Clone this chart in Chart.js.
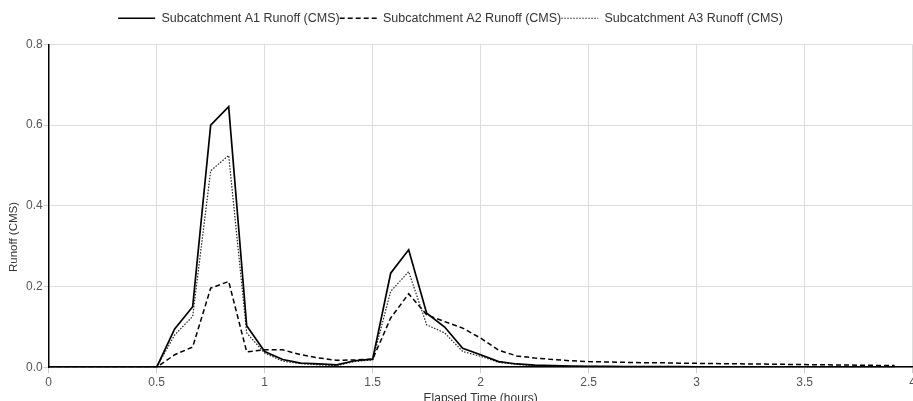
<!DOCTYPE html>
<html>
<head>
<meta charset="utf-8">
<script src="https://cdn.jsdelivr.net/npm/chart.js"></script>
<style>
  html, body { margin: 0; padding: 0; overflow: hidden; background: #fff; }
  #wrap { width: 918px; height: 406px; }
</style>
</head>
<body>
<div id="wrap"><canvas id="myChart"></canvas></div>
<script>
// elapsed time, minutes (5 minute steps)
const minutes = [0, 5, 10, 15, 20, 25, 30, 35, 40, 45, 50, 55,
    60, 65, 70, 75, 80, 85, 90, 95, 100, 105, 110, 115,
    120, 125, 130, 135, 140, 145, 150, 155, 160, 165, 170, 175,
    180, 185, 190, 195, 200, 205, 210, 215, 220, 225, 230, 235]

const runoffA1 = [0, 0, 0, 0, 0, 0, 0, 0.095, 0.15, 0.60, 0.646, 0.103,
    0.039, 0.019, 0.010, 0.008, 0.006, 0.016, 0.020, 0.233, 0.291, 0.134, 0.0995, 0.047,
    0.031, 0.014, 0.008, 0.005, 0.004, 0.003, 0.002, 0.002, 0.0015, 0.0015, 0.0012, 0.0012,
    0.001, 0.001, 0.001, 0.0009, 0.0009, 0.0008, 0.0008, 0.0007, 0.0007, 0.0006, 0.0006, 0.0005]

const runoffA2 = [0, 0, 0, 0, 0, 0, 0, 0.031, 0.05, 0.196, 0.2125, 0.038,
    0.043, 0.043, 0.031, 0.023, 0.017, 0.018, 0.020, 0.122, 0.182, 0.13, 0.113, 0.097,
    0.072, 0.042, 0.028, 0.023, 0.019, 0.016, 0.014, 0.013, 0.012, 0.011, 0.011, 0.010,
    0.0095, 0.009, 0.0085, 0.008, 0.0075, 0.007, 0.0065, 0.006, 0.0055, 0.005, 0.0045, 0.004]

const runoffA3 = [0, 0, 0, 0, 0, 0, 0, 0.08, 0.126, 0.487, 0.525, 0.085,
    0.035, 0.015, 0.009, 0.006, 0.004, 0.014, 0.018, 0.188, 0.237, 0.105, 0.085, 0.039,
    0.027, 0.012, 0.007, 0.004, 0.003, 0.002, 0.002, 0.0015, 0.001, 0.001, 0.001, 0.001,
    0.0009, 0.0009, 0.0008, 0.0008, 0.0007, 0.0007, 0.0006, 0.0006, 0.0005, 0.0005, 0.0005, 0.0004]

const seriesNames = ['Subcatchment A1 Runoff (CMS)', 'Subcatchment A2 Runoff (CMS)', 'Subcatchment A3 Runoff (CMS)']
const yTitle = 'Runoff (CMS)'

// pair times (hours) with values
const toPoints = values => values.map((v, i) => ({ x: minutes[i] / 60, y: v }))

Chart.defaults.font.family = '"Liberation Sans", Arial, sans-serif'
Chart.defaults.font.size = 12

// extra room under the legend, legend nudged left a bit
const legendGap = {
    id: 'legendGap',
    beforeInit(chart) {
        const fit = chart.legend.fit
        chart.legend.fit = function () {
            fit.bind(chart.legend)()
            this.height += 10
        }
    },
    afterLayout(chart) {
        chart.legend.left -= 21
        chart.legend.right -= 21
    }
}

// y axis title sits a bit below the middle of the plot
const yTitlePlugin = {
    id: 'yTitlePlugin',
    afterDraw(chart) {
        const c = chart.ctx
        c.save()
        c.translate(14, 237)
        c.rotate(-Math.PI / 2)
        c.font = '11.5px "Liberation Sans", Arial, sans-serif'
        c.fillStyle = '#333'
        c.textAlign = 'center'
        c.textBaseline = 'middle'
        c.fillText(yTitle, 0, 0)
        c.restore()
    }
}

const ctx = document.getElementById('myChart').getContext('2d')

const myChart = new Chart(ctx, {
    type: 'line',
    data: {
        datasets: [{
            label: seriesNames[0],
            data: toPoints(runoffA1),
            borderColor: '#000',
            borderWidth: 1.7,
            pointRadius: 0,
            pointStyle: 'line',
            tension: 0
        }, {
            label: seriesNames[1],
            data: toPoints(runoffA2),
            borderColor: '#000',
            borderWidth: 1.5,
            borderDash: [5, 3],
            pointRadius: 0,
            pointStyle: 'line',
            tension: 0
        }, {
            label: seriesNames[2],
            data: toPoints(runoffA3),
            borderColor: '#222',
            borderWidth: 1.2,
            borderDash: [1.5, 1.5],
            pointRadius: 0,
            pointStyle: 'line',
            tension: 0
        }]
    },
    options: {
        responsive: true,
        maintainAspectRatio: false,
        animation: false,
        layout: { padding: { top: 12, left: 25, right: 0, bottom: 0 } },
        plugins: {
            legend: {
                position: 'top',
                labels: {
                    usePointStyle: true,
                    pointStyleWidth: 37,
                    boxHeight: 12,
                    padding: 0,
                    color: '#333',
                    font: { size: 12.5 },
                    // legend samples take the dataset's dash pattern
                    generateLabels: chart => Chart.defaults.plugins.legend.labels.generateLabels(chart).map((item, i) => {
                        const ds = chart.data.datasets[i]
                        item.lineDash = ds.borderDash || []
                        item.lineWidth = ds.borderWidth
                        item.strokeStyle = ds.borderColor
                        return item
                    })
                }
            },
            tooltip: { enabled: false }
        },
        scales: {
            x: {
                type: 'linear',
                min: 0,
                max: 4,
                ticks: { stepSize: 0.5, color: '#555', padding: 2, callback: v => String(v) },
                grid: { color: '#ddd', tickColor: '#ccc', tickLength: 6 },
                border: { color: '#000', width: 1.5 },
                title: { display: true, text: 'Elapsed Time (hours)', color: '#333', padding: { top: 0, bottom: 0 } }
            },
            y: {
                min: 0,
                max: 0.8,
                ticks: { stepSize: 0.2, color: '#555', padding: 1, callback: v => v.toFixed(1) },
                grid: { color: '#ddd', tickColor: '#ccc', tickLength: 5 },
                border: { color: '#000', width: 1.5 }
            }
        }
    },
    plugins: [legendGap, yTitlePlugin]
})
</script>
</body>
</html>
